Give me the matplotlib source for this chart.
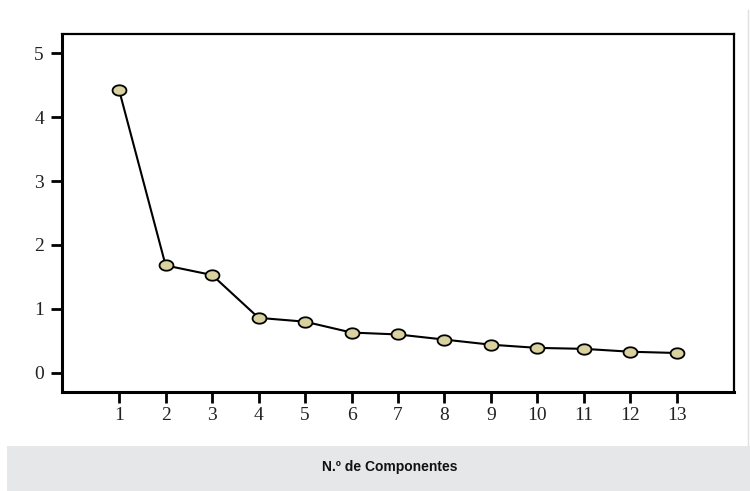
import matplotlib
matplotlib.use("Agg")
import numpy as np
import matplotlib.pyplot as plt
from matplotlib.patches import Rectangle
from matplotlib.path import Path

components = [1, 2, 3, 4, 5, 6, 7, 8, 9, 10, 11, 12, 13]
eigenvalues = [4.42, 1.68, 1.53, 0.86, 0.80, 0.63, 0.60, 0.52, 0.44, 0.39, 0.375, 0.33, 0.31]
y_ticks = [0, 1, 2, 3, 4, 5]
y_tick_labels = ["0", "1", "2", "3", "4", "5"]
x_label = "N.º de Componentes"

W, H = 750, 491
fig = plt.figure(figsize=(W / 100, H / 100), dpi=100)
fig.patch.set_facecolor("white")

# axes frame in pixel coords: left 62, top 34, right 734, bottom 392
l, t, r, b = 62, 34, 734, 392
ax = fig.add_axes([l / W, 1 - b / H, (r - l) / W, (b - t) / H])

# elliptical marker (wider than tall)
theta = np.linspace(0, 2 * np.pi, 60)
ellipse = Path(np.column_stack([np.cos(theta), 0.75 * np.sin(theta)]), closed=True)

ax.plot(components, eigenvalues, color="black", lw=1.5, zorder=2)
ax.plot(components, eigenvalues, linestyle="none", marker=ellipse, markersize=10,
        markerfacecolor="#d9d29e", markeredgecolor="black", markeredgewidth=1.3, zorder=3)

ax.set_xlim(-0.23, 14.23)
ax.set_ylim(-0.3, 5.3)
ax.set_xticks(components)
ax.set_xticklabels([str(c) for c in components])
ax.set_yticks(y_ticks)
ax.set_yticklabels(y_tick_labels)

for lab in ax.get_xticklabels() + ax.get_yticklabels():
    lab.set_fontfamily("Liberation Serif")
    lab.set_fontsize(14)
    lab.set_color("#222222")

ax.tick_params(axis="both", direction="out", length=8, width=2, color="black")
ax.tick_params(axis="x", pad=3)
ax.tick_params(axis="y", pad=5)

ax.spines["left"].set_linewidth(2.2)
ax.spines["bottom"].set_linewidth(2.2)
ax.spines["top"].set_linewidth(1.6)
ax.spines["right"].set_linewidth(1.6)

# gray band with axis title
band = Rectangle((7 / W, 0), (W - 7) / W, (H - 446) / H, transform=fig.transFigure,
                 facecolor="#e6e7e9", edgecolor="none", zorder=0)
fig.patches.append(band)
fig.text(390 / W, 1 - 467 / H, x_label, ha="center", va="center",
         fontfamily="Liberation Sans", fontweight="bold", fontsize=10, color="#111111")

# faint right border line
fig.add_artist(plt.Line2D([748 / W, 748 / W], [1 - 445 / H, 1 - 10 / H],
                          transform=fig.transFigure, color="#e0e0e0", lw=1))

fig.savefig("out.png", dpi=100)
